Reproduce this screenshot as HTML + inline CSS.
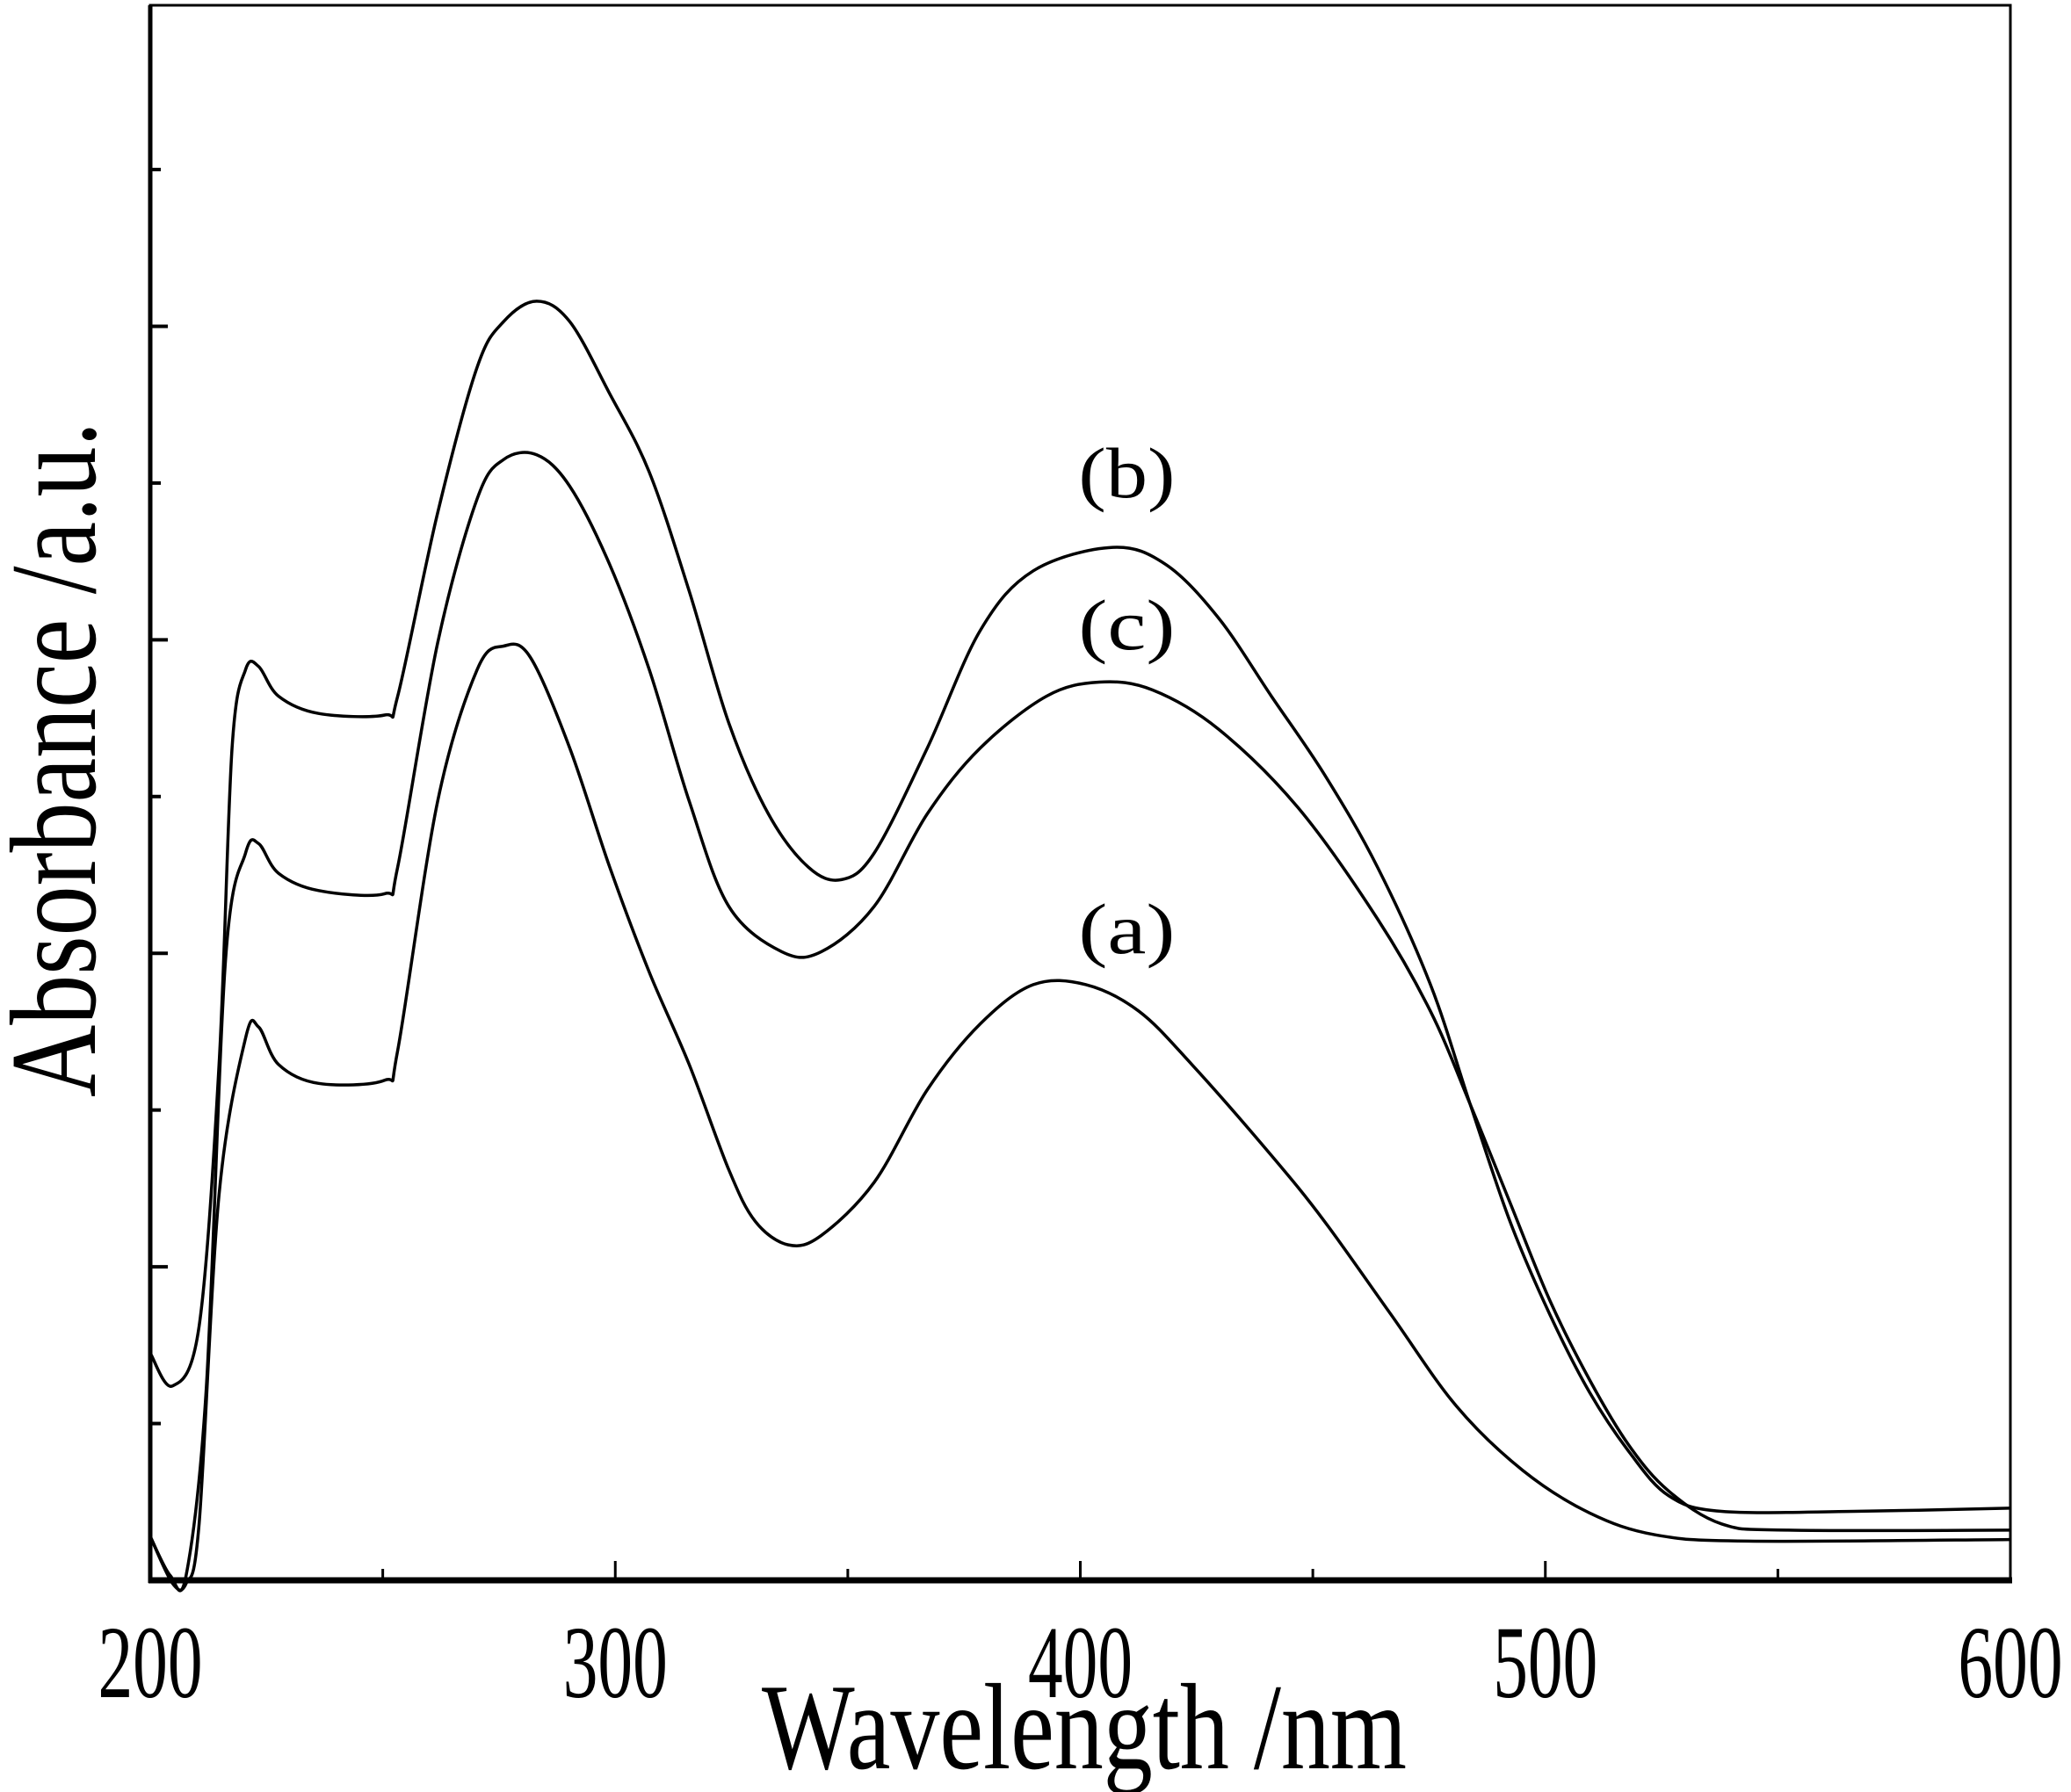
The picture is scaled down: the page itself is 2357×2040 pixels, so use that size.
<!DOCTYPE html>
<html><head><meta charset="utf-8"><style>
html,body{margin:0;padding:0;background:#fff;}
svg{display:block;}
text{font-family:"Liberation Serif",serif;fill:#000;}
</style></head><body>
<svg id="chart" width="2357" height="2040" viewBox="0 0 2357 2040" xmlns="http://www.w3.org/2000/svg">
<g id="plot"></g>
</svg>
<script>
const xTicks = [200, 300, 400, 500, 600];
const xMinorTicks = [250, 350, 450, 550];
const yTicks = [1, 2, 3, 4, 5, 6, 7, 8, 9];
const wlB = [200,204.8,210.5,214.8,217.6,220.5,223.3,227.6,236.2,250.4,253.2,261.8,270.3,276.0,283.1,290.2,298.8,307.3,315.9,324.4,332.9,341.5,348.6,355.7,367.1,378.5,389.9,407.0,418.4,429.7,441.1,452.5,463.9,475.3,483.8,492.4,500.9,509.5,518.0,526.5,537.9,566.4,600];
const absB = [1.45,1.24,1.62,3.29,5.31,5.81,5.83,5.64,5.53,5.52,5.64,6.81,7.74,8.03,8.16,8.03,7.57,7.07,6.31,5.47,4.89,4.55,4.47,4.64,5.31,6.06,6.44,6.59,6.48,6.14,5.64,5.14,4.55,3.80,3.04,2.29,1.70,1.20,0.82,0.54,0.44,0.44,0.46];
const wlC = [200,204.3,207.7,212.0,216.2,220.5,223.3,227.6,236.2,250.4,253.2,261.8,270.3,276.0,283.1,290.2,298.8,307.3,315.9,324.4,335.8,344.3,355.7,367.1,378.5,392.7,404.1,415.5,429.7,446.8,463.9,475.3,483.8,492.4,500.9,509.5,518.0,526.5,537.9,552.2,600];
const absC = [0.28,0.03,0.03,1.20,3.96,4.64,4.70,4.51,4.40,4.38,4.55,5.98,6.90,7.15,7.18,6.98,6.48,5.81,4.97,4.30,4.01,4.01,4.30,4.89,5.31,5.64,5.73,5.68,5.43,4.93,4.22,3.63,3.04,2.41,1.79,1.28,0.86,0.57,0.36,0.32,0.32];
const wlA = [200,204.8,207.7,210.5,214.8,220.5,223.3,227.6,236.2,250.4,253.2,261.8,270.3,276.0,281.7,290.2,298.8,307.3,315.9,324.4,330.1,337.2,344.3,355.7,367.1,378.5,389.9,401.2,412.6,424.0,441.1,452.5,466.7,480.9,495.2,509.5,523.7,543.6,600];
const absA = [0.28,-0.02,-0.02,0.36,2.46,3.46,3.53,3.29,3.17,3.19,3.38,4.97,5.81,5.96,5.89,5.31,4.55,3.88,3.29,2.62,2.29,2.14,2.20,2.54,3.13,3.55,3.80,3.80,3.63,3.29,2.71,2.29,1.70,1.11,0.70,0.43,0.29,0.25,0.26];
const seriesLabels = ["(b)", "(c)", "(a)"];
const labelPos = [[410, 6.91], [410, 5.94], [410, 4.0]];

const L = 171, R = 2288, T = 6, B = 1799;
const X0 = 200, X1 = 600;
const pxPerUnit = (B - 193) / 9;
function sx(v){ return L + (v - X0) / (X1 - X0) * (R - L); }
function sy(v){ return B - v * pxPerUnit; }
const NS = "http://www.w3.org/2000/svg";
const svg = document.getElementById('chart');
function mk(tag, attrs, parent){
  const e = document.createElementNS(NS, tag);
  for (const k in attrs) e.setAttribute(k, attrs[k]);
  (parent || svg).appendChild(e);
  return e;
}
function smoothPath(xs, ys){
  const p = xs.map((x, i) => [sx(x), sy(ys[i])]);
  let d = "M" + p[0][0].toFixed(1) + "," + p[0][1].toFixed(1);
  for (let i = 0; i < p.length - 1; i++){
    const p0 = p[Math.max(i-1,0)], p1 = p[i], p2 = p[i+1], p3 = p[Math.min(i+2,p.length-1)];
    const c1 = [p1[0] + (p2[0]-p0[0])/6, p1[1] + (p2[1]-p0[1])/6];
    const c2 = [p2[0] - (p3[0]-p1[0])/6, p2[1] - (p3[1]-p1[1])/6];
    d += " C" + c1[0].toFixed(1)+","+c1[1].toFixed(1)+" "+c2[0].toFixed(1)+","+c2[1].toFixed(1)+" "+p2[0].toFixed(1)+","+p2[1].toFixed(1);
  }
  return d;
}
const plot = document.getElementById('plot');
const series = [[wlB, absB, "series-b-curve"], [wlC, absC, "series-c-curve"], [wlA, absA, "series-a-curve"]];
series.forEach(s => {
  const path = mk('path', {d: smoothPath(s[0], s[1]), fill: 'none', stroke: '#000', 'stroke-width': 3.5, 'stroke-linejoin': 'round'}, plot);
  
  
});
const frame = mk('rect', {x: L, y: T, width: R - L, height: B - T, fill: 'none', stroke: '#000', 'stroke-width': 3});


const yAxis = mk('line', {x1: L, y1: T, x2: L, y2: B + 3, stroke: '#000', 'stroke-width': 5});


const xAxis = mk('line', {x1: L - 2, y1: B, x2: R + 2, y2: B, stroke: '#000', 'stroke-width': 7});


yTicks.forEach(v => {
  const len = (v % 2 === 0) ? 20 : 12;
  const t = mk('line', {x1: L, y1: sy(v), x2: L + len, y2: sy(v), stroke: '#000', 'stroke-width': 4});
  
  
});
xTicks.forEach(v => {
  const t = mk('line', {x1: sx(v), y1: B, x2: sx(v), y2: B - 22, stroke: '#000', 'stroke-width': 3});
  
  
  const lb = mk('text', {x: sx(v), y: 1932, 'text-anchor': 'middle', 'font-size': 118, textLength: 119, lengthAdjust: 'spacingAndGlyphs'});
  lb.textContent = String(v);
  
  
});
xMinorTicks.forEach(v => {
  const t = mk('line', {x1: sx(v), y1: B, x2: sx(v), y2: B - 13, stroke: '#000', 'stroke-width': 3});
  
  
});
seriesLabels.forEach((s, i) => {
  const lb = mk('text', {x: sx(labelPos[i][0]), y: sy(labelPos[i][1]), 'text-anchor': 'middle', 'font-size': 82, textLength: 110, lengthAdjust: 'spacingAndGlyphs'});
  lb.textContent = s;
  
  
});
const xt = mk('text', {x: 867, y: 2013, 'font-size': 140, textLength: 734, lengthAdjust: 'spacingAndGlyphs'});
xt.textContent = 'Wavelength /nm';


const yt = mk('text', {x: 0, y: 0, 'font-size': 140, textLength: 769, lengthAdjust: 'spacingAndGlyphs', transform: 'translate(108,1249) rotate(-90)'});
yt.textContent = 'Absorbance /a.u.';


</script>
</body></html>
